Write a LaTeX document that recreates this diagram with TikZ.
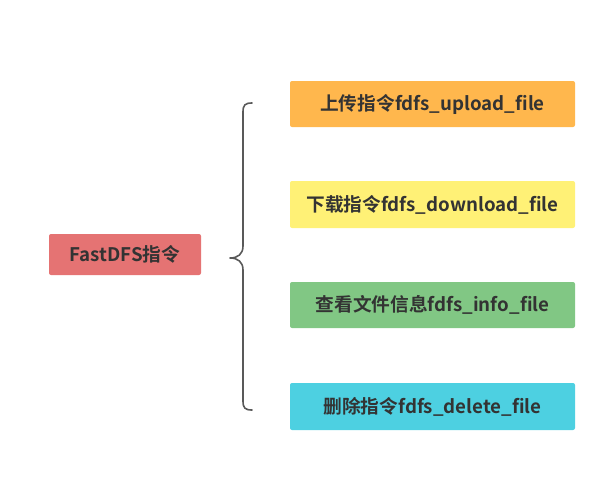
\documentclass[tikz,border=0pt]{standalone}
\usepackage{fontspec}
\setmainfont{Noto Sans CJK SC}[BoldFont={Noto Sans CJK SC Bold}]
\begin{document}
\begin{tikzpicture}[x=1pt,y=-1pt,
  box/.style={rounded corners=2pt,draw=none,minimum height=46pt,inner sep=0pt,font=\bfseries\fontsize{18.7}{20}\selectfont,text=black!80},
  rbox/.style={box,minimum width=285pt}]
\definecolor{cred}{RGB}{229,115,115}
\definecolor{corange}{RGB}{255,183,77}
\definecolor{cyellow}{RGB}{255,241,118}
\definecolor{cgreen}{RGB}{129,199,132}
\definecolor{ccyan}{RGB}{77,208,225}
\useasboundingbox (0,0) rectangle (602,479);
\node[box,fill=cred,minimum width=152pt,minimum height=41pt] (root) at (125,254.5) {FastDFS指令};
\node[rbox,fill=corange] (up) at (432.5,104) {上传指令fdfs\_upload\_file};
\node[rbox,fill=cyellow,minimum height=47pt] (down) at (432.5,204.5) {下载指令fdfs\_download\_file};
\node[rbox,fill=cgreen] (info) at (432.5,305) {查看文件信息fdfs\_info\_file};
\node[rbox,fill=ccyan,minimum height=47pt] (del) at (432.5,406.5) {删除指令fdfs\_delete\_file};
\coordinate (btop) at (252,103);
\coordinate (bbot) at (252,410);
\coordinate (btip) at (230,258);
\draw[line width=1.6pt,draw=black!65,line cap=round,line join=round]
  (btop) .. controls (245,103) and (243,105) .. (243,112)
  -- (243,246) .. controls (243,254) and (238,258) .. (btip)
  .. controls (238,258) and (243,262) .. (243,270)
  -- (243,401) .. controls (243,408) and (245,410) .. (bbot);
\end{tikzpicture}
\end{document}
